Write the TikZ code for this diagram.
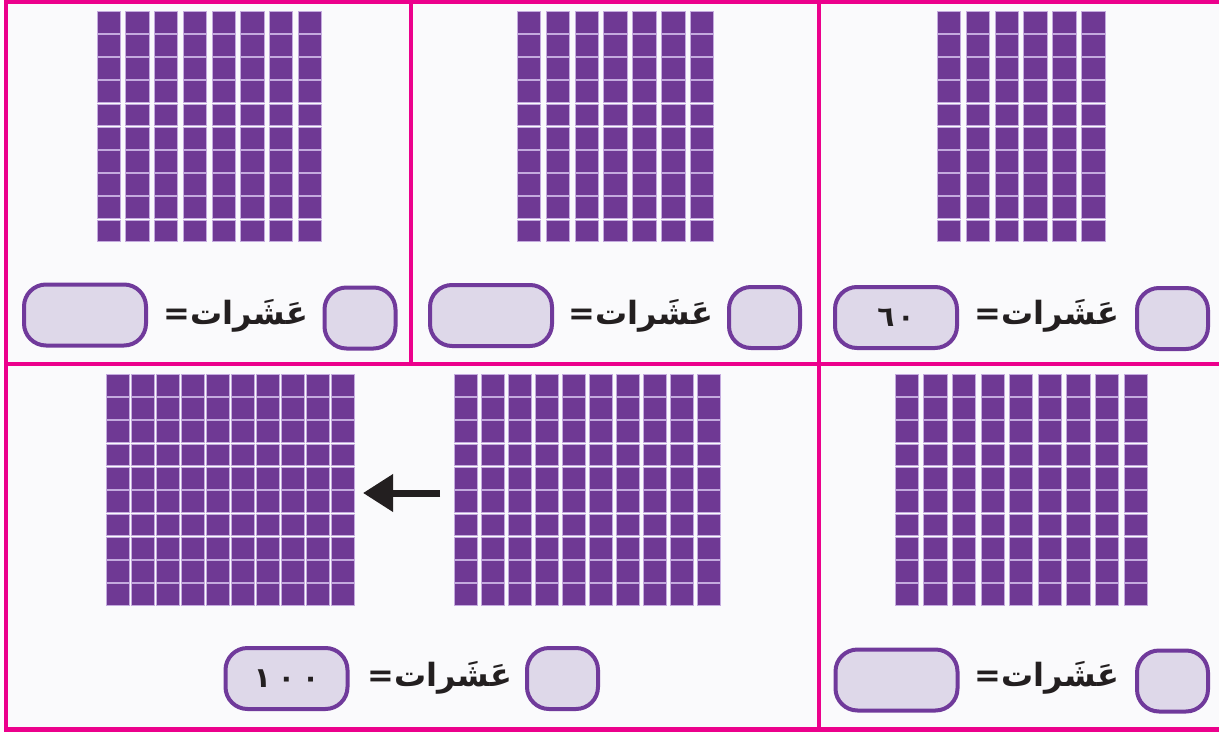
\documentclass[tikz,border=0pt]{standalone}
\usepackage{fontspec}
\newfontfamily\arabicfont[Script=Arabic]{DejaVu Sans}
\TeXXeTstate=1
\usetikzlibrary{arrows.meta}

\definecolor{framepink}{RGB}{236,0,140}
\definecolor{cellpurple}{RGB}{111,57,148}
\definecolor{celledge}{RGB}{196,170,222}
\definecolor{boxline}{RGB}{112,58,155}
\definecolor{boxfill}{RGB}{222,216,233}
\definecolor{paper}{RGB}{250,250,252}
\definecolor{ink}{RGB}{35,31,32}

\begin{document}
\begin{tikzpicture}[x=1pt, y=-1pt,
    cell/.style={fill=cellpurple, draw=celledge, line width=0.6pt},
    bigbox/.style={draw=boxline, fill=boxfill, line width=4pt, rounded corners=22pt,
        minimum width=122pt, minimum height=61pt, inner sep=0pt,
        font=\arabicfont\bfseries\fontsize{28}{32}\selectfont, text=ink},
    smallbox/.style={bigbox, minimum width=71pt},
    word/.style={font=\arabicfont\bfseries\fontsize{32}{38}\selectfont, text=ink, inner sep=0pt},
    frame/.style={draw=framepink, line width=4.5pt}]
    \useasboundingbox (0,0) rectangle (1219,734);
    \fill[paper] (6,2) rectangle (1219,729.5);

    % panel frames
    \draw[frame] (1219,2) -- (6,2) -- (6,729.5) -- (1219,729.5);
    \draw[frame] (6,364) -- (1219,364);
    \draw[frame] (411,2) -- (411,364);
    \draw[frame] (819,2) -- (819,729.5);

    % tens rods, top row
    \foreach \xo/\px/\nc in {97/28.7/8, 517/28.9/7, 937/28.9/6}
        \foreach \c in {1,...,\nc}
            \foreach \r in {0,...,9}
                \draw[cell] ({\xo+(\c-1)*\px},{11+\r*23.2}) rectangle ++(23.3,21.8);

    % tens rods, bottom row
    \foreach \xo/\px/\nc in {106/25/10, 454/27/10, 895/28.6/9}
        \foreach \c in {1,...,\nc}
            \foreach \r in {0,...,9}
                \draw[cell] ({\xo+(\c-1)*\px},{374+\r*23.3}) rectangle ++(23.3,21.8);

    % answer lines
    \node[smallbox] (tl-s) at (360,318) {};
    \node[word] (tl-w) at (236,316) {\beginR عَشَرات=\endR};
    \node[bigbox] (tl-b) at (85,315) {};

    \node[smallbox] (tm-s) at (764.5,317.5) {};
    \node[word] (tm-w) at (641,316) {\beginR عَشَرات=\endR};
    \node[bigbox] (tm-b) at (491,315.5) {};

    \node[smallbox] (tr-s) at (1172.5,318.5) {};
    \node[word] (tr-w) at (1047,316) {\beginR عَشَرات=\endR};
    \node[bigbox] (tr-b) at (896,317.5) {٦\hspace{3pt}٠};

    \node[smallbox] (bl-s) at (562.5,678.5) {};
    \node[word] (bl-w) at (440,678) {\beginR عَشَرات=\endR};
    \node[bigbox] (bl-b) at (286.5,678.5) {١\hspace{7pt}٠\hspace{7pt}٠};

    \node[smallbox] (br-s) at (1172.5,681) {};
    \node[word] (br-w) at (1047,678) {\beginR عَشَرات=\endR};
    \node[bigbox] (br-b) at (896.5,680) {};

    % regrouping arrow
    \coordinate (arr-tail) at (440,493);
    \coordinate (arr-tip) at (363,493);
    \draw[ink, line width=7pt, -{Triangle[length=30pt, width=36pt]}] (arr-tail) -- (arr-tip);
\end{tikzpicture}
\end{document}
